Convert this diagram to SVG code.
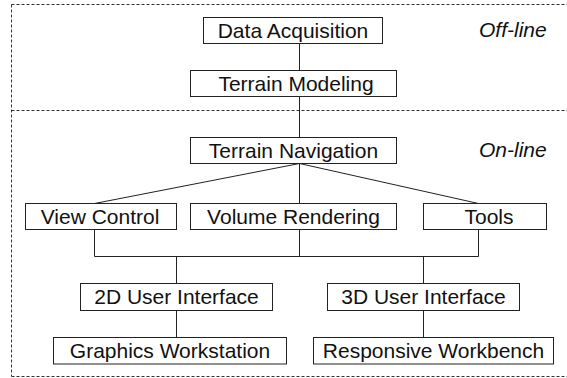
<svg xmlns="http://www.w3.org/2000/svg" width="567" height="378" viewBox="0 0 567 378">
  <style>
    .box { fill: #ffffff; stroke: #222222; stroke-width: 1; }
    .lbl { font-family: "Liberation Sans", Arial, Helvetica, sans-serif; font-size: 21px; fill: #111111; text-anchor: middle; }
    .zone { font-family: "Liberation Sans", Arial, Helvetica, sans-serif; font-size: 21px; font-style: italic; fill: #111111; }
    .frame { fill: none; stroke: #333333; stroke-width: 1; stroke-dasharray: 3 2; }
    .link { fill: none; stroke: #222222; stroke-width: 1; }
  </style>
  <rect width="567" height="378" fill="#ffffff"/>

  <!-- off-line / on-line frame -->
  <g id="frame">
    <path class="frame" d="M11.5 4.5 H567 M11.5 110.5 H567 M11.5 376.5 H567 M11.5 4.5 V376.5"/>
    <text class="zone" x="479" y="37">Off-line</text>
    <text class="zone" x="479" y="157">On-line</text>
  </g>

  <!-- connectors -->
  <g id="connectors">
    <path class="link" d="M299.5 43.5 V70.5 M299.5 96.5 V137.5 M299.5 163.5 V203.5"/>
    <path class="link" d="M299.5 163.5 L94.5 203.5 M299.5 163.5 L478.5 203.5"/>
    <path class="link" d="M94.5 229.5 V256.5 M299.5 229.5 V256.5 M478.5 229.5 V256.5 M94.5 256.5 H478.5"/>
    <path class="link" d="M176.5 256.5 V283.5 M423.5 256.5 V283.5 M176.5 310.5 V337.5 M423.5 310.5 V337.5"/>
  </g>

  <g id="data-acquisition">
    <rect class="box" x="203.5" y="17.5" width="179" height="26"/>
    <text class="lbl" x="293" y="37.5">Data Acquisition</text>
  </g>
  <g id="terrain-modeling">
    <rect class="box" x="190.5" y="70.5" width="206" height="26"/>
    <text class="lbl" x="296" y="90.5">Terrain Modeling</text>
  </g>
  <g id="terrain-navigation">
    <rect class="box" x="190.5" y="137.5" width="206" height="26"/>
    <text class="lbl" x="293.5" y="157.5">Terrain Navigation</text>
  </g>
  <g id="view-control">
    <rect class="box" x="25.5" y="203.5" width="151" height="26"/>
    <text class="lbl" x="100" y="223.5">View Control</text>
  </g>
  <g id="volume-rendering">
    <rect class="box" x="190.5" y="203.5" width="206" height="26"/>
    <text class="lbl" x="293.5" y="223.5">Volume Rendering</text>
  </g>
  <g id="tools">
    <rect class="box" x="423.5" y="203.5" width="123" height="26"/>
    <text class="lbl" x="489" y="223.5">Tools</text>
  </g>
  <g id="ui-2d">
    <rect class="box" x="80.5" y="283.5" width="192" height="27"/>
    <text class="lbl" x="176.5" y="304">2D User Interface</text>
  </g>
  <g id="ui-3d">
    <rect class="box" x="327.5" y="283.5" width="192" height="27"/>
    <text class="lbl" x="423.5" y="304">3D User Interface</text>
  </g>
  <g id="graphics-workstation">
    <rect class="box" x="53.5" y="337.5" width="233" height="26.5"/>
    <text class="lbl" x="170" y="357.5">Graphics Workstation</text>
  </g>
  <g id="responsive-workbench">
    <rect class="box" x="313.5" y="337.5" width="240" height="26.5"/>
    <text class="lbl" x="433.5" y="357.5">Responsive Workbench</text>
  </g>
</svg>
